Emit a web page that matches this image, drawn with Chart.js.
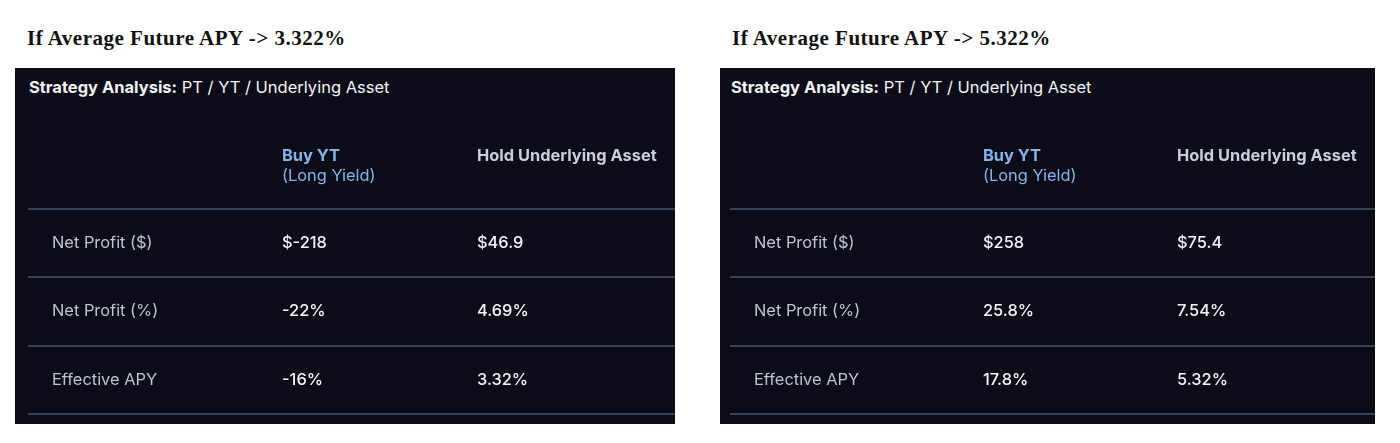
<!DOCTYPE html>
<html>
<head>
<meta charset="utf-8">
<script src="https://cdn.jsdelivr.net/npm/chart.js@4.4.1/dist/chart.umd.min.js"></script>
<style>
  html, body { margin: 0; padding: 0; background: #ffffff; }
  body { width: 1400px; height: 443px; position: relative; overflow: hidden; }
  .title { position: absolute; font-family: "Liberation Serif", serif; font-weight: 700; font-size: 21px; letter-spacing: 0.5px; color: #111; white-space: nowrap; line-height: 24px; }
  .panel { position: absolute; background: #0b0c17; }
  .panel-head { position: absolute; font-family: Inter, "Noto Sans", sans-serif; font-size: 16.5px; color: #f3f4f7; white-space: nowrap; line-height: 20px; }
  .panel-head b { font-weight: 700; }
  .panel canvas { position: absolute; left: 0; top: 0; }
</style>
</head>
<body>
<div class="title" id="t1" style="left:27px; top:26px;"></div>
<div class="title" id="t2" style="left:732px; top:26px;"></div>

<div class="panel" id="p1" style="left:15px; top:68px; width:660px; height:356px;">
  <div class="panel-head" style="left:14px; top:9px;"><b>Strategy Analysis:</b> PT / YT / Underlying Asset</div>
  <div style="position:absolute; left:0; top:0; width:660px; height:356px;"><canvas id="c1"></canvas></div>
</div>
<div class="panel" id="p2" style="left:720px; top:68px; width:655px; height:356px;">
  <div class="panel-head" style="left:11px; top:9px;"><b>Strategy Analysis:</b> PT / YT / Underlying Asset</div>
  <div style="position:absolute; left:0; top:0; width:655px; height:356px;"><canvas id="c2"></canvas></div>
</div>

<script>
// ---- data ----
const scenarioApy = ['3.322%', '5.322%'];
const columns = ['Buy YT', 'Hold Underlying Asset'];
const columnSubtitles = ['(Long Yield)', ''];
const rows = ['Net Profit ($)', 'Net Profit (%)', 'Effective APY'];
const leftBuyYT = ['$-218', '-22%', '-16%'];
const leftHold = ['$46.9', '4.69%', '3.32%'];
const rightBuyYT = ['$258', '25.8%', '17.8%'];
const rightHold = ['$75.4', '7.54%', '5.32%'];

document.getElementById('t1').textContent = 'If Average Future APY -> ' + scenarioApy[0];
document.getElementById('t2').textContent = 'If Average Future APY -> ' + scenarioApy[1];

const HEADER = '__header__';
const FONT = 'Inter, "Noto Sans", sans-serif';
const FS = 16.4;

function buildCells(colValues) {
  const pts = [];
  colValues.forEach((vals, ci) => {
    vals.forEach((v, ri) => pts.push({ x: columns[ci], y: rows[ri], text: v }));
  });
  return pts;
}

const tablePlugin = {
  id: 'tablePlugin',
  beforeDatasetsDraw(chart, args, opts) {
    const ctx = chart.ctx;
    const y = chart.scales.y;
    const x = chart.scales.x;
    const slot = Math.abs(y.getPixelForValue(1) - y.getPixelForValue(0));
    ctx.save();
    ctx.strokeStyle = '#38415a';
    ctx.lineWidth = 2;
    for (let i = 0; i < y.ticks.length; i++) {
      const py = Math.round(y.getPixelForValue(i) + slot / 2);
      ctx.beginPath();
      ctx.moveTo(opts.lineStart, py);
      ctx.lineTo(chart.width, py);
      ctx.stroke();
    }
    const hy = y.getPixelForValue(0);
    ctx.textAlign = 'left';
    ctx.textBaseline = 'middle';
    columns.forEach((c, i) => {
      const px = x.getPixelForValue(i);
      ctx.font = '700 ' + FS + 'px ' + FONT;
      ctx.fillStyle = i === 0 ? '#86b4ea' : '#c9cfdd';
      ctx.fillText(c, px, hy - 19);
      if (columnSubtitles[i]) {
        ctx.font = '400 ' + FS + 'px ' + FONT;
        ctx.fillStyle = '#86b4ea';
        ctx.fillText(columnSubtitles[i], px, hy + 1);
      }
    });
    ctx.restore();
  },
  afterDatasetsDraw(chart) {
    const ctx = chart.ctx;
    ctx.save();
    ctx.font = '500 ' + FS + 'px ' + FONT;
    ctx.fillStyle = '#f4f6fa';
    ctx.textAlign = 'left';
    ctx.textBaseline = 'middle';
    chart.data.datasets.forEach((ds, di) => {
      const meta = chart.getDatasetMeta(di);
      meta.data.forEach((el, i) => {
        ctx.fillText(ds.data[i].text, el.x, el.y);
      });
    });
    ctx.restore();
  }
};

function makeTable(id, buy, hold, pad, axisWidth, lineStart) {
  return new Chart(document.getElementById(id), {
    type: 'scatter',
    data: {
      datasets: [{
        data: buildCells([buy, hold]),
        pointRadius: 0,
        pointHoverRadius: 0,
        showLine: false
      }]
    },
    options: {
      responsive: true,
      maintainAspectRatio: false,
      animation: false,
      events: [],
      layout: { padding: pad },
      plugins: {
        legend: { display: false },
        tooltip: { enabled: false },
        tablePlugin: { lineStart: lineStart }
      },
      scales: {
        x: {
          type: 'category',
          labels: columns,
          offset: true,
          display: false
        },
        y: {
          type: 'category',
          labels: [HEADER].concat(rows),
          offset: true,
          position: 'left',
          grid: { display: false },
          border: { display: false },
          afterFit(scale) { scale.width = axisWidth; },
          ticks: {
            crossAlign: 'far',
            padding: 0,
            color: '#bec4d3',
            font: { family: FONT, size: FS, weight: '400' },
            callback(value) {
              const lbl = this.getLabelForValue(value);
              return lbl === HEADER ? '' : lbl;
            }
          }
        }
      }
    },
    plugins: [tablePlugin]
  });
}

makeTable('c1', leftBuyYT, leftHold, { left: 37, right: 100.5, top: 72.5, bottom: 9.5 }, 132.5, 13);
makeTable('c2', rightBuyYT, rightHold, { left: 34, right: 101, top: 72.5, bottom: 9.5 }, 132, 10);
</script>
</body>
</html>
